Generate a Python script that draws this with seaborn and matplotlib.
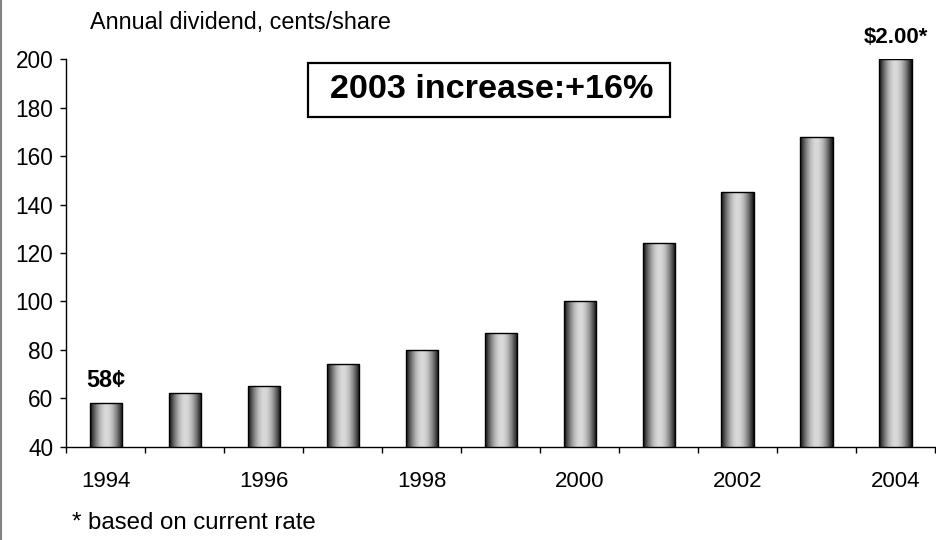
import numpy as np
import pandas as pd
import matplotlib
matplotlib.use("Agg")
import matplotlib.pyplot as plt
from matplotlib.lines import Line2D
from matplotlib.patches import Rectangle
import seaborn as sns

# ---- data ----
years = [1994, 1995, 1996, 1997, 1998, 1999, 2000, 2001, 2002, 2003, 2004]
dividend_cents = [58, 62, 65, 74, 80, 87, 100, 124, 145, 168, 200]
yticks = [40, 60, 80, 100, 120, 140, 160, 180, 200]
xlabel_years = [1994, 1996, 1998, 2000, 2002, 2004]
first_label = "58¢"
last_label = "$2.00*"
title_text = "Annual dividend, cents/share"
box_text = "2003 increase:+16%"
footnote = "* based on current rate"

sns.set_theme(style="white")
plt.rcParams['font.family'] = ['Liberation Sans', 'DejaVu Sans']

df = pd.DataFrame({"year": [str(y) for y in years], "cents": dividend_cents})

fig = plt.figure(figsize=(9.37, 5.40), dpi=100)
ax = fig.add_axes([0.0708, 0.1728, 0.998 - 0.0708, 0.8902 - 0.1728])

sns.barplot(data=df, x="year", y="cents", color="#aaaaaa", width=0.41,
            edgecolor="black", linewidth=1.0, ax=ax, zorder=2)

ax.set_xlim(-0.5, len(years) - 0.5)
ax.set_ylim(40, 200)
ybottom = ax.get_ylim()[0]

# cylinder-like gradient fill for each bar
t = np.linspace(0, 1, 200)
profile = 0.05 + 0.80 * np.sin(np.pi * t) ** 1.0
grad = profile[np.newaxis, :]
for p in list(ax.patches):
    x0, w, h = p.get_x(), p.get_width(), p.get_height()
    im = ax.imshow(grad, cmap="gray", vmin=0, vmax=1, aspect="auto",
                   extent=(x0, x0 + w, ybottom, h), zorder=2.5,
                   interpolation="bilinear")
    im.set_clip_path(p)
    p.set_facecolor("none")
    p.set_zorder(3)

ax.set_xlim(-0.5, len(years) - 0.5)
ax.set_ylim(40, 200)
ax.set_xlabel("")
ax.set_ylabel("")

# y axis
ax.set_yticks(yticks)
ax.set_yticklabels([str(v) for v in yticks], fontsize=16.3, color="black")
ax.tick_params(axis="y", direction="out", length=6 * 0.72, width=1, color="black",
               pad=5.0, left=True)

# x axis: labels every other year, tick marks at category boundaries
pos = [years.index(y) for y in xlabel_years]
ax.set_xticks(pos)
ax.set_xticklabels([str(y) for y in xlabel_years], fontsize=16, color="black")
ax.tick_params(axis="x", which="major", length=0, pad=17.5)
ax.set_xticks(np.arange(-0.5, len(years), 1.0), minor=True)
ax.tick_params(axis="x", which="minor", direction="out", length=6 * 0.72,
               width=1, color="black", bottom=True)

for s in ["top", "right"]:
    ax.spines[s].set_visible(False)
for s in ["left", "bottom"]:
    ax.spines[s].set_color("black")
    ax.spines[s].set_linewidth(1)

# value labels on first and last bars
ax.annotate(first_label, xy=(0, dividend_cents[0]), xytext=(0, 8),
            textcoords="offset points", ha="center", va="bottom",
            fontsize=16.8, fontweight="bold", color="black")
ax.annotate(last_label, xy=(len(years) - 1, dividend_cents[-1]), xytext=(0, 8),
            textcoords="offset points", ha="center", va="bottom",
            fontsize=16, fontweight="bold", color="black", annotation_clip=False)

# texts
fig.text(90 / 937, 1 - 22 / 540, title_text, ha="left", va="center",
         fontsize=16.8, color="black")
fig.text(72 / 937, 1 - 523 / 540, footnote, ha="left", va="center",
         fontsize=17.3, color="black")

# boxed annotation
fig.patches.append(Rectangle((308 / 937, 1 - 117 / 540), (670 - 308) / 937, 54 / 540,
                             transform=fig.transFigure, facecolor="white",
                             edgecolor="black", linewidth=1.6, zorder=5))
fig.text(492 / 937, 1 - 90 / 540, box_text, ha="center", va="center",
         fontsize=24.6, fontweight="bold", color="black", zorder=6)

# left border line
fig.add_artist(Line2D([1.5 / 937, 1.5 / 937], [0, 1], transform=fig.transFigure,
                      color="#808080", linewidth=1.5))

fig.savefig("out.png", dpi=100)
